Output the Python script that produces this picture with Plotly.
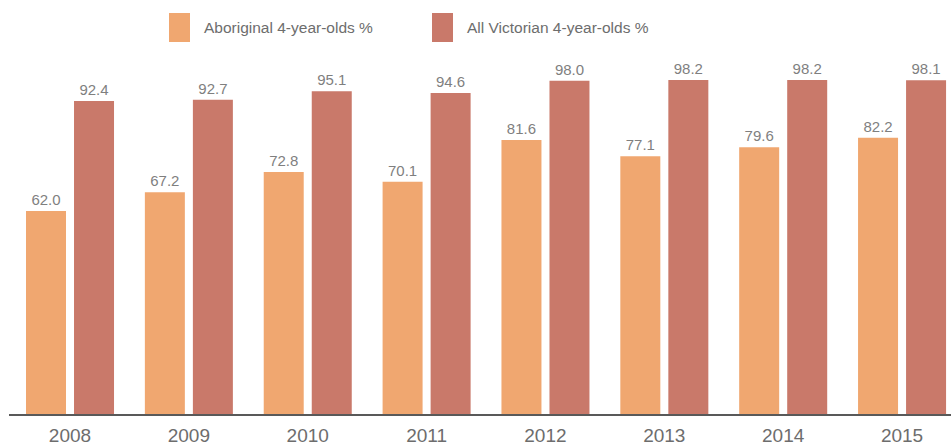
import plotly.graph_objects as go

years = ["2008", "2009", "2010", "2011", "2012", "2013", "2014", "2015"]
aboriginal = [62.0, 67.2, 72.8, 70.1, 81.6, 77.1, 79.6, 82.2]
all_vic = [92.4, 92.7, 95.1, 94.6, 98.0, 98.2, 98.2, 98.1]
series_names = ["Aboriginal 4-year-olds %", "All Victorian 4-year-olds %"]
colors = ["#F0A770", "#C9796A"]

W, H = 951, 447
ML, MR, MT, MB = 9, 0, 50, 33
plot_w = W - ML - MR
plot_h = H - MT - MB

FONT = "Liberation Sans, Arial, sans-serif"

fig = go.Figure()
for vals, name, col, off in [(aboriginal, series_names[0], colors[0], -0.370),
                             (all_vic, series_names[1], colors[1], 0.034)]:
    fig.add_trace(go.Bar(
        x=list(range(len(years))), y=vals, name=name,
        marker=dict(color=col, line=dict(width=0)),
        width=0.3365, offset=off,
        text=[f"{v:.1f}" for v in vals], textposition="outside",
        textfont=dict(family=FONT, size=15, color="#7f7f7f"),
        cliponaxis=False, showlegend=False,
    ))

# Custom legend: tall colour swatches with labels above the plot
def px_x(px):
    return (px - ML) / plot_w

def px_y(py):
    return (H - MB - py) / plot_h

for name, col, sx in zip(series_names, colors, [169, 432]):
    fig.add_shape(type="rect", xref="paper", yref="paper",
                  x0=px_x(sx), x1=px_x(sx + 21), y0=px_y(42), y1=px_y(13),
                  fillcolor=col, line=dict(width=0))
    fig.add_annotation(xref="paper", yref="paper", x=px_x(sx + 33), y=px_y(28),
                       text=name, showarrow=False, xanchor="left", yanchor="middle",
                       font=dict(family=FONT, size=15.5, color="#6d6d6d"))

fig.update_layout(
    width=W, height=H,
    margin=dict(l=ML, r=MR, t=MT, b=MB, autoexpand=False),
    paper_bgcolor="white", plot_bgcolor="white",
    barmode="overlay",
    xaxis=dict(
        range=[-0.513, 7.412], automargin=False,
        tickmode="array", tickvals=list(range(len(years))), ticktext=years,
        tickfont=dict(family=FONT, size=19, color="#6d6d6d"),
        showline=True, linecolor="#595959", linewidth=1.5,
        ticks="outside", ticklen=3, tickcolor="rgba(0,0,0,0)",
        showgrid=False, zeroline=False,
    ),
    yaxis=dict(
        range=[5.9, 5.9 + plot_h / 3.619], automargin=False,
        visible=False, showgrid=False, zeroline=False,
    ),
)

fig.write_html("out.html")
